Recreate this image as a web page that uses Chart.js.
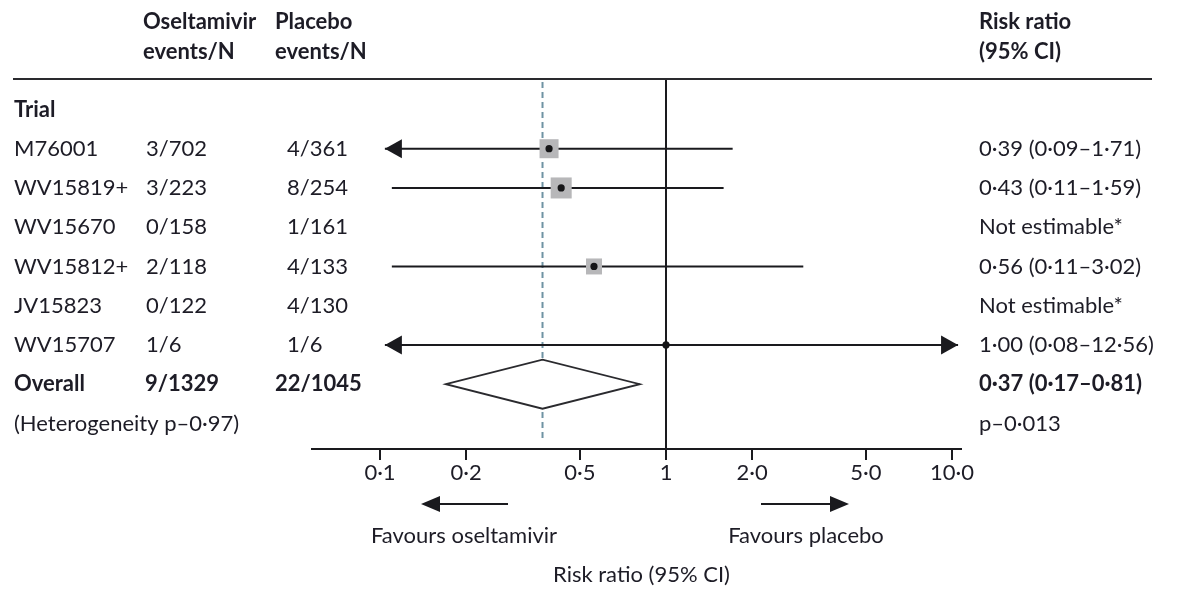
<!DOCTYPE html>
<html>
<head>
<meta charset="utf-8">
<script src="https://cdn.jsdelivr.net/npm/chart.js@4.4.1/dist/chart.umd.min.js"></script>
<style>
  html, body { margin: 0; padding: 0; background: #ffffff; }
  #wrap { width: 1178px; height: 589px; position: relative; }
</style>
</head>
<body>
<div id="wrap"><canvas id="forest"></canvas></div>
<script>
// Trials and event counts
const trials = ['M76001', 'WV15819+', 'WV15670', 'WV15812+', 'JV15823', 'WV15707'];
const oseltamivirEvents = ['3/702', '3/223', '0/158', '2/118', '0/122', '1/6'];
const placeboEvents = ['4/361', '8/254', '1/161', '4/133', '4/130', '1/6'];

// Risk ratios with 95% CI (null = not estimable)
const riskRatio = [0.39, 0.43, null, 0.56, null, 1.00];
const ciLower   = [0.09, 0.11, null, 0.11, null, 0.08];
const ciUpper   = [1.71, 1.59, null, 3.02, null, 12.56];
const studyWeight = [33.6, 41.1, null, 23.8, null, 1.5];
const riskRatioText = ['0·39 (0·09–1·71)', '0·43 (0·11–1·59)', 'Not estimable*',
                       '0·56 (0·11–3·02)', 'Not estimable*', '1·00 (0·08–12·56)'];

// Pooled estimate
const overallRatio = [0.37, 0.17, 0.81];       // estimate, lower, upper
const overallEvents = ['9/1329', '22/1045'];
const overallText = '0·37 (0·17–0·81)';
const heterogeneityText = '(Heterogeneity p–0·97)';
const overallPText = 'p–0·013';

// Axis ticks
const tickValues = [0.1, 0.2, 0.5, 1, 2, 5, 10];
const tickLabels = ['0·1', '0·2', '0·5', '1', '2·0', '5·0', '10·0'];

const FONT = 'Lato';
const FS = 22;
const INK = '#1d1c26';
const LINE = '#1a1a1e';
const CLIP_LO = 0.104, CLIP_HI = 10.5;

function rowsWith(values) {
  const out = [];
  values.forEach((v, i) => { if (v !== null) out.push({ x: v, y: i, w: studyWeight[i] }); });
  return out;
}

function arrowHead(ctx, tipX, y, dir, len, half) {
  ctx.beginPath();
  ctx.moveTo(tipX, y);
  ctx.lineTo(tipX - dir * len, y - half);
  ctx.lineTo(tipX - dir * len, y + half);
  ctx.closePath();
  ctx.fill();
}

const forestPlugin = {
  id: 'forest',
  beforeDatasetsDraw(chart) {
    const { ctx, chartArea: a } = chart;
    const xs = chart.scales.x, ys = chart.scales.y;
    ctx.save();

    // line of no effect
    const x1 = Math.round(xs.getPixelForValue(1));
    ctx.strokeStyle = LINE;
    ctx.lineWidth = 2;
    ctx.beginPath();
    ctx.moveTo(x1, a.top);
    ctx.lineTo(x1, a.bottom);
    ctx.stroke();

    // pooled estimate reference
    const xo = xs.getPixelForValue(overallRatio[0]);
    ctx.strokeStyle = '#6f93a3';
    ctx.setLineDash([6, 4]);
    ctx.beginPath();
    ctx.moveTo(xo, a.top + 3);
    ctx.lineTo(xo, a.bottom - 7);
    ctx.stroke();
    ctx.setLineDash([]);

    // confidence intervals
    ctx.strokeStyle = LINE;
    ctx.fillStyle = LINE;
    ctx.lineWidth = 2;
    riskRatio.forEach((rr, i) => {
      if (rr === null) return;
      const y = ys.getPixelForValue(i);
      const lo = Math.max(ciLower[i], CLIP_LO);
      const hi = Math.min(ciUpper[i], CLIP_HI);
      const xl = xs.getPixelForValue(lo), xh = xs.getPixelForValue(hi);
      ctx.beginPath();
      ctx.moveTo(xl, y);
      ctx.lineTo(xh, y);
      ctx.stroke();
      if (ciLower[i] < CLIP_LO) arrowHead(ctx, xl, y, -1, 17, 9.5);
      if (ciUpper[i] > CLIP_HI) arrowHead(ctx, xh, y, 1, 17, 9.5);
    });

    // pooled diamond
    const yo = ys.getPixelForValue(trials.length);
    const half = 24.5;
    ctx.beginPath();
    ctx.moveTo(xs.getPixelForValue(overallRatio[1]), yo);
    ctx.lineTo(xo, yo - half);
    ctx.lineTo(xs.getPixelForValue(overallRatio[2]), yo);
    ctx.lineTo(xo, yo + half);
    ctx.closePath();
    ctx.fillStyle = '#ffffff';
    ctx.fill();
    ctx.strokeStyle = '#2a2a2e';
    ctx.lineWidth = 1.8;
    ctx.stroke();
    ctx.restore();
  },
  afterDraw(chart) {
    const { ctx, chartArea: a } = chart;
    const xs = chart.scales.x, ys = chart.scales.y;
    const rowY = i => ys.getPixelForValue(i);
    ctx.save();
    ctx.fillStyle = INK;
    ctx.textBaseline = 'middle';
    ctx.textAlign = 'left';
    const reg = FS + 'px ' + FONT;
    const bold = 'bold ' + FS + 'px ' + FONT;
    const text = (s, x, y, f) => { ctx.font = f; ctx.fillText(s, x, y); };

    // column headers
    const h1 = 21.5, h2 = 51.5;
    text('Oseltamivir', 143, h1, bold);
    text('events/N', 143, h2, bold);
    text('Placebo', 275, h1, bold);
    text('events/N', 275, h2, bold);
    text('Risk ratio', 979, h1, bold);
    text('(95% CI)', 979, h2, bold);

    // header rule
    ctx.strokeStyle = '#2a2a2e';
    ctx.lineWidth = 2;
    ctx.beginPath();
    ctx.moveTo(13, a.top);
    ctx.lineTo(1152, a.top);
    ctx.stroke();

    text('Trial', 14, rowY(-1), bold);
    trials.forEach((t, i) => {
      const y = rowY(i);
      text(t, 14, y, reg);
      text(oseltamivirEvents[i], 146, y, reg);
      text(placeboEvents[i], 287, y, reg);
      text(riskRatioText[i], 979, y, reg);
    });
    const yo = rowY(trials.length);
    text('Overall', 14, yo, bold);
    text(overallEvents[0], 145, yo, bold);
    text(overallEvents[1], 275, yo, bold);
    text(overallText, 979, yo, bold);
    const yh = rowY(trials.length + 1);
    text(heterogeneityText, 14, yh, reg);
    text(overallPText, 979, yh, reg);

    // direction arrows
    const x1 = xs.getPixelForValue(1);
    const ya = 504;
    ctx.strokeStyle = LINE;
    ctx.fillStyle = LINE;
    ctx.lineWidth = 2;
    ctx.beginPath();
    ctx.moveTo(x1 - 158, ya); ctx.lineTo(x1 - 240, ya);
    ctx.moveTo(x1 + 95, ya);  ctx.lineTo(x1 + 178, ya);
    ctx.stroke();
    arrowHead(ctx, x1 - 245, ya, -1, 19, 8);
    arrowHead(ctx, x1 + 183, ya, 1, 19, 8);

    ctx.fillStyle = INK;
    ctx.textAlign = 'center';
    text('Favours oseltamivir', x1 - 202, 536, reg);
    text('Favours placebo', x1 + 140, 536, reg);
    text('Risk ratio (95% CI)', (a.left + a.right) / 2 + 5, 575, reg);
    ctx.restore();
  }
};

new Chart(document.getElementById('forest'), {
  type: 'scatter',
  data: {
    datasets: [
      {
        // point estimates (drawn on top)
        data: rowsWith(riskRatio),
        pointStyle: 'circle',
        pointRadius: 3.6,
        backgroundColor: '#151517',
        borderWidth: 0,
        order: 0
      },
      {
        // study weight squares
        data: rowsWith(riskRatio),
        pointStyle: 'rect',
        pointRadius: c => Math.sqrt(c.raw.w) * 3.28 / Math.SQRT2,
        backgroundColor: '#b7b7b9',
        borderWidth: 0,
        order: 1
      }
    ]
  },
  options: {
    responsive: true,
    maintainAspectRatio: false,
    animation: false,
    events: [],
    layout: { padding: { left: 312, right: 217, top: 79, bottom: 100 } },
    plugins: { legend: { display: false }, tooltip: { enabled: false } },
    scales: {
      x: {
        type: 'logarithmic',
        bounds: 'data',
        min: 0.05784,
        max: 10.75,
        afterBuildTicks: s => { s.ticks = tickValues.map(v => ({ value: v })); },
        afterFit: s => { s.height = 40; },
        grid: { display: true, drawOnChartArea: false, drawTicks: true, tickLength: 11, color: LINE, lineWidth: 2 },
        border: { display: true, color: LINE, width: 2 },
        ticks: {
          autoSkip: false, maxRotation: 0, padding: 0, color: INK,
          font: { family: FONT, size: FS },
          callback: (v, i) => tickLabels[i]
        }
      },
      y: {
        type: 'linear',
        display: false,
        reverse: true,
        min: -1.776,
        max: 7.651
      }
    }
  },
  plugins: [forestPlugin]
});
</script>
</body>
</html>
